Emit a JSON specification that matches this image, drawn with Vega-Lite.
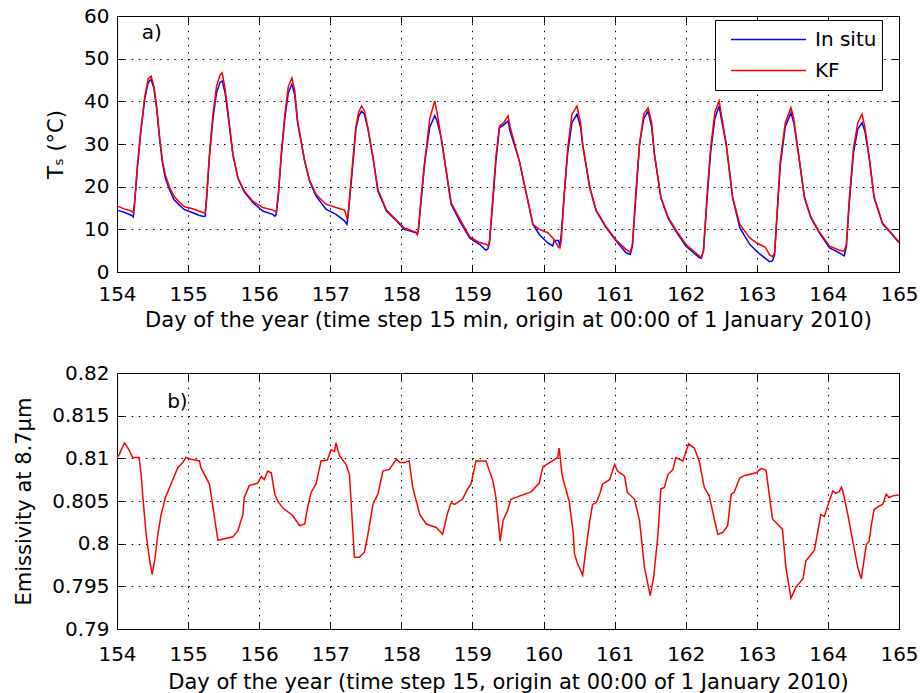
{
  "$schema": "https://vega.github.io/schema/vega-lite/v6.json",
  "padding": {"left": 13, "top": 5, "right": 5, "bottom": 5},
  "bounds": "flush",
  "spacing": 101,
  "config": {
    "font": "DejaVu Sans",
    "view": {"stroke": "black", "strokeWidth": 1},
    "axis": {
      "labelFontSize": 20, "titleFontSize": 21, "titleFontWeight": "normal",
      "labelColor": "black", "titleColor": "black", "tickColor": "black",
      "domain": false, "gridColor": "black",
      "gridDash": [1.5, 5.6], "gridOpacity": 1, "gridWidth": 1,
      "labelFlush": false, "labelOverlap": false
    },
    "axisX": {"labelPadding": 22, "titlePadding": 7},
    "axisY": {"labelPadding": 15, "titlePadding": 17}
  },
  "vconcat": [
    {
      "width": 782, "height": 256,
      "data": {"values": [
        {"d":154.00,"In situ":14.5,"KF":15.5},{"d":154.10,"In situ":14.0,"KF":14.8},{"d":154.20,"In situ":13.3,"KF":14.3},{"d":154.23,"In situ":12.9,"KF":13.9},
        {"d":154.25,"In situ":16.5,"KF":17.0},{"d":154.29,"In situ":25.0,"KF":25.5},{"d":154.33,"In situ":32.0,"KF":32.5},{"d":154.39,"In situ":40.5,"KF":41.0},
        {"d":154.44,"In situ":44.5,"KF":45.3},{"d":154.48,"In situ":45.2,"KF":45.9},{"d":154.52,"In situ":43.0,"KF":43.5},{"d":154.56,"In situ":38.0,"KF":38.5},
        {"d":154.60,"In situ":31.0,"KF":31.5},{"d":154.64,"In situ":25.5,"KF":26.0},{"d":154.68,"In situ":22.0,"KF":22.8},{"d":154.74,"In situ":19.2,"KF":19.8},
        {"d":154.80,"In situ":17.0,"KF":17.8},{"d":154.87,"In situ":15.8,"KF":16.5},{"d":154.95,"In situ":14.6,"KF":15.3},{"d":155.05,"In situ":14.0,"KF":14.9},
        {"d":155.15,"In situ":13.3,"KF":14.3},{"d":155.22,"In situ":13.0,"KF":13.9},{"d":155.24,"In situ":13.1,"KF":13.8},{"d":155.26,"In situ":17.0,"KF":17.5},
        {"d":155.30,"In situ":27.0,"KF":27.5},{"d":155.35,"In situ":36.0,"KF":37.0},{"d":155.40,"In situ":42.0,"KF":43.5},{"d":155.45,"In situ":44.5,"KF":46.2},
        {"d":155.48,"In situ":44.8,"KF":46.7},{"d":155.52,"In situ":42.0,"KF":43.0},{"d":155.56,"In situ":37.0,"KF":37.7},{"d":155.63,"In situ":27.5,"KF":27.6},
        {"d":155.70,"In situ":22.0,"KF":22.1},{"d":155.79,"In situ":18.8,"KF":19.0},{"d":155.91,"In situ":16.3,"KF":16.6},{"d":156.05,"In situ":14.3,"KF":15.1},
        {"d":156.19,"In situ":13.5,"KF":14.5},{"d":156.22,"In situ":13.1,"KF":14.3},{"d":156.24,"In situ":13.5,"KF":14.0},{"d":156.27,"In situ":18.0,"KF":18.5},
        {"d":156.31,"In situ":27.0,"KF":27.5},{"d":156.36,"In situ":36.0,"KF":36.8},{"d":156.41,"In situ":42.0,"KF":43.5},{"d":156.46,"In situ":44.0,"KF":45.5},
        {"d":156.50,"In situ":41.5,"KF":42.5},{"d":156.54,"In situ":35.0,"KF":35.4},{"d":156.64,"In situ":26.0,"KF":26.0},{"d":156.71,"In situ":21.2,"KF":21.5},
        {"d":156.80,"In situ":17.8,"KF":18.2},{"d":156.94,"In situ":14.7,"KF":15.9},{"d":157.08,"In situ":13.5,"KF":15.1},{"d":157.20,"In situ":12.0,"KF":14.5},
        {"d":157.235,"In situ":11.2,"KF":12.6},{"d":157.25,"In situ":13.0,"KF":13.5},{"d":157.30,"In situ":22.0,"KF":23.0},{"d":157.36,"In situ":33.5,"KF":34.0},
        {"d":157.40,"In situ":36.5,"KF":37.5},{"d":157.44,"In situ":37.7,"KF":38.9},{"d":157.48,"In situ":37.0,"KF":37.8},{"d":157.53,"In situ":33.5,"KF":33.8},
        {"d":157.60,"In situ":26.8,"KF":27.0},{"d":157.67,"In situ":19.0,"KF":19.3},{"d":157.79,"In situ":14.3,"KF":14.5},{"d":157.93,"In situ":12.0,"KF":12.2},
        {"d":158.04,"In situ":10.0,"KF":10.3},{"d":158.21,"In situ":9.2,"KF":9.3},{"d":158.225,"In situ":8.8,"KF":8.8},{"d":158.24,"In situ":10.0,"KF":10.0},
        {"d":158.28,"In situ":17.0,"KF":18.0},{"d":158.33,"In situ":26.0,"KF":26.0},{"d":158.40,"In situ":34.0,"KF":36.0},{"d":158.47,"In situ":36.6,"KF":40.1},
        {"d":158.50,"In situ":35.5,"KF":37.5},{"d":158.56,"In situ":31.5,"KF":31.5},{"d":158.63,"In situ":23.7,"KF":23.9},{"d":158.70,"In situ":15.9,"KF":16.2},
        {"d":158.82,"In situ":12.0,"KF":12.5},{"d":158.96,"In situ":8.0,"KF":8.3},{"d":159.10,"In situ":6.5,"KF":6.9},{"d":159.19,"In situ":5.1,"KF":6.5},
        {"d":159.22,"In situ":5.5,"KF":6.1},{"d":159.24,"In situ":7.0,"KF":7.2},{"d":159.28,"In situ":15.0,"KF":16.0},{"d":159.33,"In situ":26.0,"KF":27.0},
        {"d":159.38,"In situ":33.8,"KF":34.2},{"d":159.44,"In situ":34.5,"KF":35.0},{"d":159.50,"In situ":35.4,"KF":36.6},{"d":159.53,"In situ":33.0,"KF":34.0},
        {"d":159.66,"In situ":26.0,"KF":26.0},{"d":159.85,"In situ":11.2,"KF":11.2},{"d":159.94,"In situ":8.8,"KF":10.0},{"d":160.06,"In situ":6.8,"KF":9.2},
        {"d":160.13,"In situ":6.1,"KF":8.0},{"d":160.15,"In situ":7.4,"KF":7.5},{"d":160.21,"In situ":7.4,"KF":5.8},{"d":160.23,"In situ":6.0,"KF":5.6},
        {"d":160.25,"In situ":9.0,"KF":7.5},{"d":160.29,"In situ":18.0,"KF":18.0},{"d":160.34,"In situ":28.0,"KF":29.0},{"d":160.40,"In situ":35.0,"KF":37.0},
        {"d":160.47,"In situ":37.0,"KF":38.9},{"d":160.52,"In situ":34.0,"KF":35.0},{"d":160.55,"In situ":29.9,"KF":29.9},{"d":160.65,"In situ":19.8,"KF":19.8},
        {"d":160.74,"In situ":14.3,"KF":14.5},{"d":160.88,"In situ":10.4,"KF":10.6},{"d":161.02,"In situ":7.3,"KF":7.5},{"d":161.16,"In situ":4.5,"KF":5.3},
        {"d":161.22,"In situ":4.1,"KF":4.6},{"d":161.25,"In situ":6.0,"KF":6.5},{"d":161.30,"In situ":18.0,"KF":19.0},{"d":161.35,"In situ":29.9,"KF":30.0},
        {"d":161.41,"In situ":36.0,"KF":37.0},{"d":161.47,"In situ":37.7,"KF":38.5},{"d":161.52,"In situ":34.0,"KF":35.0},{"d":161.56,"In situ":27.6,"KF":27.6},
        {"d":161.65,"In situ":17.4,"KF":17.6},{"d":161.75,"In situ":12.7,"KF":12.9},{"d":161.86,"In situ":9.6,"KF":9.9},{"d":162.00,"In situ":6.1,"KF":6.5},
        {"d":162.19,"In situ":3.4,"KF":3.8},{"d":162.22,"In situ":3.2,"KF":3.5},{"d":162.25,"In situ":5.0,"KF":5.0},{"d":162.30,"In situ":17.0,"KF":18.0},
        {"d":162.35,"In situ":28.0,"KF":29.0},{"d":162.41,"In situ":36.0,"KF":37.5},{"d":162.47,"In situ":38.9,"KF":40.1},{"d":162.51,"In situ":35.0,"KF":36.0},
        {"d":162.57,"In situ":29.9,"KF":29.9},{"d":162.66,"In situ":17.4,"KF":17.5},{"d":162.76,"In situ":10.4,"KF":11.2},{"d":162.90,"In situ":6.5,"KF":8.0},
        {"d":163.00,"In situ":4.8,"KF":6.8},{"d":163.12,"In situ":3.2,"KF":5.8},{"d":163.18,"In situ":2.4,"KF":4.0},{"d":163.22,"In situ":2.6,"KF":3.6},
        {"d":163.25,"In situ":4.0,"KF":4.5},{"d":163.28,"In situ":12.0,"KF":12.5},{"d":163.33,"In situ":25.0,"KF":26.0},{"d":163.40,"In situ":34.0,"KF":35.0},
        {"d":163.48,"In situ":37.3,"KF":38.5},{"d":163.52,"In situ":35.0,"KF":36.0},{"d":163.58,"In situ":28.4,"KF":28.4},{"d":163.67,"In situ":17.4,"KF":17.6},
        {"d":163.76,"In situ":12.7,"KF":12.9},{"d":163.88,"In situ":9.2,"KF":9.4},{"d":164.02,"In situ":5.7,"KF":6.1},{"d":164.16,"In situ":4.5,"KF":5.1},
        {"d":164.23,"In situ":3.8,"KF":4.9},{"d":164.26,"In situ":6.0,"KF":6.5},{"d":164.30,"In situ":16.0,"KF":17.0},{"d":164.36,"In situ":28.0,"KF":29.0},
        {"d":164.42,"In situ":33.5,"KF":35.0},{"d":164.48,"In situ":35.0,"KF":37.0},{"d":164.52,"In situ":33.0,"KF":34.0},{"d":164.58,"In situ":26.8,"KF":27.0},
        {"d":164.65,"In situ":17.4,"KF":17.6},{"d":164.77,"In situ":11.2,"KF":11.4},{"d":164.86,"In situ":9.6,"KF":9.8},{"d":165.00,"In situ":6.9,"KF":7.0}
      ]},
      "transform": [{"fold": ["In situ", "KF"], "as": ["series", "T"]}],
      "resolve": {"axis": {"x": "independent", "y": "independent"}},
      "layer": [
        {
          "mark": {"type": "line", "strokeWidth": 1.5},
          "encoding": {
            "x": {"field": "d", "type": "quantitative",
                  "scale": {"domain": [154, 165], "nice": false, "zero": false},
                  "axis": {"grid": true, "tickSize": -7, "labelPadding": 19, "titlePadding": 5, "values": [154,155,156,157,158,159,160,161,162,163,164,165], "format": "d",
                           "title": "Day of the year (time step 15 min, origin at 00:00 of 1 January 2010)"}},
            "y": {"field": "T", "type": "quantitative",
                  "scale": {"domain": [0, 60], "nice": false},
                  "axis": {"grid": true, "tickSize": -7, "values": [0,10,20,30,40,50,60], "title": "Tₛ (°C)"}},
            "color": {"field": "series", "type": "nominal",
                      "scale": {"domain": ["In situ", "KF"], "range": ["#0000ff", "#ff0000"]},
                      "legend": {"orient": "none", "legendX": 598, "legendY": 4, "title": null,
                                 "symbolType": "stroke", "symbolSize": 5625, "symbolStrokeWidth": 1.5,
                                 "clipHeight": 29, "rowPadding": 2, "symbolOffset": 10,
                                 "labelFontSize": 20, "labelColor": "black", "labelOffset": 8,
                                 "strokeColor": "black", "fillColor": "white", "padding": 5}}
          }
        },
        {
          "mark": {"type": "line", "opacity": 0},
          "encoding": {
            "x": {"field": "d", "type": "quantitative",
                  "axis": {"orient": "top", "tickSize": -7, "values": [154,155,156,157,158,159,160,161,162,163,164,165], "labels": false, "title": null, "grid": false}},
            "y": {"field": "T", "type": "quantitative",
                  "axis": {"orient": "right", "tickSize": -7, "values": [0,10,20,30,40,50,60], "labels": false, "title": null, "grid": false}}
          }
        },
        {
          "data": {"values": [{"label": "a)"}]},
          "mark": {"type": "text", "fontSize": 20, "font": "DejaVu Sans", "color": "black"},
          "encoding": {
            "x": {"datum": 154.49, "axis": null},
            "y": {"datum": 56, "axis": null},
            "text": {"field": "label"}
          }
        }
      ]
    },
    {
      "width": 782, "height": 256,
      "data": {"values": [
        {"d":154.00,"e":0.8101},{"d":154.035,"e":0.8105},{"d":154.06,"e":0.8110},{"d":154.105,"e":0.8118},{"d":154.14,"e":0.8114},{"d":154.18,"e":0.8108},
        {"d":154.22,"e":0.8101},{"d":154.31,"e":0.8101},{"d":154.34,"e":0.8081},{"d":154.36,"e":0.8058},{"d":154.41,"e":0.8011},{"d":154.46,"e":0.7980},
        {"d":154.495,"e":0.7964},{"d":154.53,"e":0.7980},{"d":154.575,"e":0.8011},{"d":154.62,"e":0.8034},{"d":154.645,"e":0.8042},{"d":154.68,"e":0.8054},
        {"d":154.76,"e":0.8070},{"d":154.855,"e":0.8089},{"d":154.925,"e":0.8095},{"d":154.97,"e":0.8101},{"d":155.04,"e":0.8099},{"d":155.16,"e":0.8097},
        {"d":155.18,"e":0.8089},{"d":155.28,"e":0.8073},{"d":155.30,"e":0.8070},{"d":155.42,"e":0.8004},{"d":155.63,"e":0.8008},{"d":155.70,"e":0.8015},
        {"d":155.77,"e":0.8034},{"d":155.79,"e":0.8054},{"d":155.86,"e":0.8068},{"d":155.98,"e":0.8071},{"d":156.03,"e":0.8079},{"d":156.07,"e":0.8075},
        {"d":156.12,"e":0.8085},{"d":156.17,"e":0.8083},{"d":156.22,"e":0.8058},{"d":156.26,"e":0.8050},{"d":156.33,"e":0.8042},{"d":156.47,"e":0.8033},
        {"d":156.57,"e":0.8021},{"d":156.64,"e":0.8023},{"d":156.68,"e":0.8042},{"d":156.73,"e":0.8060},{"d":156.80,"e":0.8070},{"d":156.87,"e":0.8097},
        {"d":156.96,"e":0.8098},{"d":157.01,"e":0.8110},{"d":157.06,"e":0.8108},{"d":157.08,"e":0.8118},{"d":157.13,"e":0.8103},{"d":157.22,"e":0.8093},
        {"d":157.27,"e":0.8081},{"d":157.34,"e":0.7984},{"d":157.41,"e":0.7984},{"d":157.48,"e":0.7990},{"d":157.53,"e":0.8011},{"d":157.60,"e":0.8046},
        {"d":157.67,"e":0.8058},{"d":157.74,"e":0.8085},{"d":157.83,"e":0.8087},{"d":157.88,"e":0.8093},{"d":157.93,"e":0.8099},{"d":157.98,"e":0.8095},
        {"d":158.04,"e":0.8095},{"d":158.11,"e":0.8097},{"d":158.16,"e":0.8066},{"d":158.26,"e":0.8034},{"d":158.35,"e":0.8023},{"d":158.49,"e":0.8019},
        {"d":158.58,"e":0.8011},{"d":158.65,"e":0.8036},{"d":158.70,"e":0.8048},{"d":158.75,"e":0.8046},{"d":158.86,"e":0.8052},{"d":158.93,"e":0.8064},
        {"d":158.98,"e":0.8070},{"d":159.05,"e":0.8097},{"d":159.19,"e":0.8097},{"d":159.29,"e":0.8073},{"d":159.33,"e":0.8054},{"d":159.39,"e":0.8003},
        {"d":159.43,"e":0.8027},{"d":159.50,"e":0.8040},{"d":159.54,"e":0.8052},{"d":159.83,"e":0.8061},{"d":159.94,"e":0.8071},{"d":159.99,"e":0.8090},
        {"d":160.20,"e":0.8101},{"d":160.22,"e":0.8112},{"d":160.26,"e":0.8081},{"d":160.29,"e":0.8071},{"d":160.36,"e":0.8050},{"d":160.42,"e":0.8011},
        {"d":160.435,"e":0.7988},{"d":160.48,"e":0.7976},{"d":160.505,"e":0.7972},{"d":160.55,"e":0.7963},{"d":160.60,"e":0.7996},{"d":160.65,"e":0.8027},
        {"d":160.69,"e":0.8046},{"d":160.74,"e":0.8048},{"d":160.79,"e":0.8058},{"d":160.83,"e":0.8070},{"d":160.93,"e":0.8075},{"d":161.00,"e":0.8093},
        {"d":161.04,"e":0.8085},{"d":161.14,"e":0.8079},{"d":161.18,"e":0.8060},{"d":161.28,"e":0.8052},{"d":161.35,"e":0.8027},{"d":161.42,"e":0.7972},
        {"d":161.50,"e":0.7939},{"d":161.55,"e":0.7961},{"d":161.61,"e":0.8011},{"d":161.65,"e":0.8064},{"d":161.70,"e":0.8066},{"d":161.75,"e":0.8081},
        {"d":161.82,"e":0.8087},{"d":161.86,"e":0.8101},{"d":161.96,"e":0.8097},{"d":162.04,"e":0.8117},{"d":162.12,"e":0.8112},{"d":162.19,"e":0.8097},
        {"d":162.26,"e":0.8066},{"d":162.33,"e":0.8056},{"d":162.45,"e":0.8011},{"d":162.52,"e":0.8013},{"d":162.59,"e":0.8021},{"d":162.64,"e":0.8058},
        {"d":162.68,"e":0.8060},{"d":162.76,"e":0.8077},{"d":162.83,"e":0.8080},{"d":162.99,"e":0.8083},{"d":163.06,"e":0.8088},{"d":163.13,"e":0.8086},
        {"d":163.22,"e":0.8029},{"d":163.36,"e":0.8017},{"d":163.41,"e":0.7972},{"d":163.48,"e":0.7936},{"d":163.55,"e":0.7949},{"d":163.65,"e":0.7959},
        {"d":163.69,"e":0.7980},{"d":163.81,"e":0.7992},{"d":163.90,"e":0.8034},{"d":163.95,"e":0.8032},{"d":164.02,"e":0.8050},{"d":164.07,"e":0.8062},
        {"d":164.11,"e":0.8059},{"d":164.16,"e":0.8061},{"d":164.19,"e":0.8066},{"d":164.21,"e":0.8062},{"d":164.28,"e":0.8034},{"d":164.35,"e":0.8003},
        {"d":164.42,"e":0.7972},{"d":164.47,"e":0.7959},{"d":164.54,"e":0.7999},{"d":164.58,"e":0.8003},{"d":164.61,"e":0.8021},{"d":164.65,"e":0.8040},
        {"d":164.72,"e":0.8044},{"d":164.77,"e":0.8046},{"d":164.82,"e":0.8058},{"d":164.86,"e":0.8054},{"d":164.91,"e":0.8056},{"d":165.00,"e":0.8057}
      ]},
      "resolve": {"axis": {"x": "independent", "y": "independent"}},
      "layer": [
        {
          "mark": {"type": "line", "strokeWidth": 1.5, "color": "#ff0000"},
          "encoding": {
            "x": {"field": "d", "type": "quantitative",
                  "scale": {"domain": [154, 165], "nice": false, "zero": false},
                  "axis": {"grid": true, "tickSize": -7, "values": [154,155,156,157,158,159,160,161,162,163,164,165], "format": "d",
                           "title": "Day of the year (time step 15, origin at 00:00 of 1 January 2010)"}},
            "y": {"field": "e", "type": "quantitative",
                  "scale": {"domain": [0.79, 0.82], "nice": false, "zero": false},
                  "axis": {"grid": true, "tickSize": -7, "values": [0.79,0.795,0.8,0.805,0.81,0.815,0.82], "format": "~g", "title": "Emissivity at 8.7μm"}}
          }
        },
        {
          "mark": {"type": "line", "opacity": 0},
          "encoding": {
            "x": {"field": "d", "type": "quantitative",
                  "axis": {"orient": "top", "tickSize": -7, "values": [154,155,156,157,158,159,160,161,162,163,164,165], "labels": false, "title": null, "grid": false}},
            "y": {"field": "e", "type": "quantitative",
                  "axis": {"orient": "right", "tickSize": -7, "values": [0.79,0.795,0.8,0.805,0.81,0.815,0.82], "labels": false, "title": null, "grid": false}}
          }
        },
        {
          "data": {"values": [{"label": "b)"}]},
          "mark": {"type": "text", "fontSize": 20, "font": "DejaVu Sans", "color": "black"},
          "encoding": {
            "x": {"datum": 154.85, "axis": null},
            "y": {"datum": 0.8166, "axis": null},
            "text": {"field": "label"}
          }
        }
      ]
    }
  ]
}
